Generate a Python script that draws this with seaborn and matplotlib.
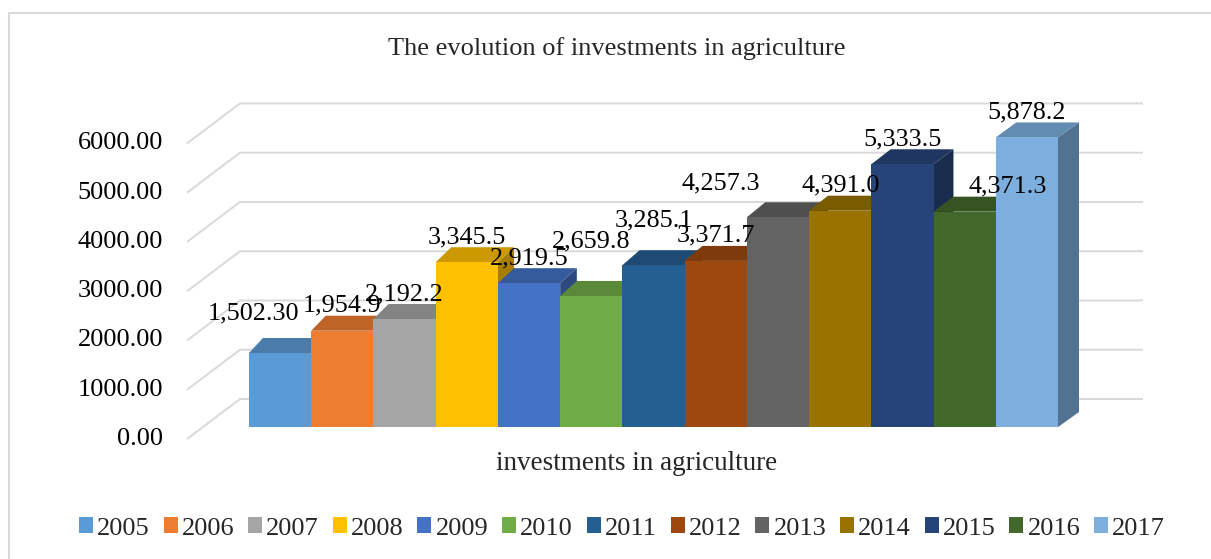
import matplotlib
matplotlib.use("Agg")
import matplotlib.pyplot as plt
import matplotlib.colors as mcolors
from matplotlib.patches import Polygon, Patch
from matplotlib.lines import Line2D
import seaborn as sns
import numpy as np

# ---------------- data ----------------
years = ["2005", "2006", "2007", "2008", "2009", "2010", "2011",
         "2012", "2013", "2014", "2015", "2016", "2017"]
investments = [1502.30, 1954.9, 2192.2, 3345.5, 2919.5, 2659.8, 3285.1,
               3371.7, 4257.3, 4391.0, 5333.5, 4371.3, 5878.2]
label_decimals = [2, 1, 1, 1, 1, 1, 1, 1, 1, 1, 1, 1, 1]
colors = ["#5B9BD5", "#ED7D31", "#A5A5A5", "#FFC000", "#4472C4", "#70AD47",
          "#255E91", "#9E480E", "#636363", "#997300", "#264478", "#43682B",
          "#7CAFDD"]
y_ticks = [0, 1000, 2000, 3000, 4000, 5000, 6000]
y_tick_labels = [f"{t:.2f}" for t in y_ticks]
title = "The evolution of investments in agriculture"
x_label = "investments in agriculture"

# ---------------- layout (pixels) ----------------
W, H = 1211, 559
PX_PER_UNIT = 0.04926          # vertical pixels per value unit
FRONT_BASE = 427               # image y of value 0 on bar front plane
YMAX = 7000
# manual label nudges (dx, extra up) in pixels, as in the original
label_nudge = [(-27, 15), (0, 0), (0, 0), (0, 0), (0, 0), (0, 30), (0, 20),
               (0, 0), (-57, 9), (0, 0), (0, 0), (43, 0), (0, 0)]

sns.set_theme(style="white")
plt.rcParams["font.family"] = ["Liberation Serif", "DejaVu Serif"]

fig = plt.figure(figsize=(W / 100, H / 100), dpi=100)
fig.patch.set_facecolor("white")
ax = fig.add_axes([249 / W, (H - FRONT_BASE) / H, 809 / W, YMAX * PX_PER_UNIT / H])

sns.barplot(x=years, y=investments, hue=years, palette=colors, order=years,
            hue_order=years, width=1.0, saturation=1, legend=False,
            linewidth=0, ax=ax)
ax.set_xlim(-0.5, len(years) - 0.5)
ax.set_ylim(0, YMAX)
ax.axis("off")


def to_disp(x, y):
    return ax.transData.transform((x, y))


def to_data(px, py):
    return ax.transData.inverted().transform((px, py))


def depth_dx(px):
    return 14 + 7 * (px - 249) / 809


DY = 15
GRID_C = "#d9d9d9"

# gridlines: left wall + back wall
for v, lab in zip(y_ticks, y_tick_labels):
    yf = to_disp(0, v)[1]
    pts = [(187, yf - 12), (240, yf + 28), (1143, yf + 28)]
    dpts = np.array([to_data(*p) for p in pts])
    ax.plot(dpts[:, 0], dpts[:, 1], color=GRID_C, lw=1.4, zorder=1,
            clip_on=False, solid_capstyle="butt")
    tx, ty = to_data(163, yf - 12)
    ax.text(tx, ty, lab, ha="right", va="center", fontsize=19,
            color="black", zorder=2)


def shade(c, f):
    r, g, b = mcolors.to_rgb(c)
    return (r * f, g * f, b * f)


patches = sorted(ax.patches, key=lambda p: p.get_x())
for i, p in enumerate(patches):
    xl = p.get_x()
    xr = xl + p.get_width()
    h = p.get_height()
    base_z = 3 + 3 * i
    p.set_zorder(base_z + 2)
    col = colors[i]
    fl = to_disp(xl, h)
    fr = to_disp(xr, h)
    br0 = to_disp(xr, 0)
    dxl = depth_dx(fl[0])
    dxr = depth_dx(fr[0])
    top = [fl, fr, (fr[0] + dxr, fr[1] + DY), (fl[0] + dxl, fl[1] + DY)]
    side = [fr, (fr[0] + dxr, fr[1] + DY), (br0[0] + dxr, br0[1] + DY), br0]
    ax.add_patch(Polygon([to_data(*q) for q in side], closed=True,
                         facecolor=shade(col, 0.65), edgecolor="none",
                         zorder=base_z, clip_on=False))
    ax.add_patch(Polygon([to_data(*q) for q in top], closed=True,
                         facecolor=shade(col, 0.8), edgecolor="none",
                         zorder=base_z + 1, clip_on=False))
    # data label
    cx = (fl[0] + fr[0]) / 2 + label_nudge[i][0]
    cy = fl[1] + 25 + label_nudge[i][1]
    lx, ly = to_data(cx, cy)
    d = label_decimals[i]
    ax.text(lx, ly, f"{investments[i]:,.{d}f}", ha="center", va="center",
            fontsize=18.8, color="black", zorder=200)

# titles
fig.text(617 / W, 1 - 49 / H, title, ha="center", va="center", fontsize=19)
fig.text(637 / W, 1 - 463 / H, x_label, ha="center", va="center", fontsize=19.5)

# legend
handles = [Patch(facecolor=c, edgecolor="none", label=y) for c, y in zip(colors, years)]
fig.legend(handles=handles, loc="center", bbox_to_anchor=(622 / W, 1 - 528.5 / H),
           ncol=len(years), frameon=False, fontsize=19, handlelength=0.53,
           handleheight=0.53, handletextpad=0.15, columnspacing=0.53,
           borderaxespad=0, borderpad=0)

# chart frame
fig.add_artist(Line2D([9 / W, 1.0], [1 - 13 / H, 1 - 13 / H], color=GRID_C, lw=1.5,
                      transform=fig.transFigure))
fig.add_artist(Line2D([9 / W, 9 / W], [1 - 13 / H, 0], color=GRID_C, lw=1.5,
                      transform=fig.transFigure))

fig.savefig("out.png", dpi=100, facecolor="white")
